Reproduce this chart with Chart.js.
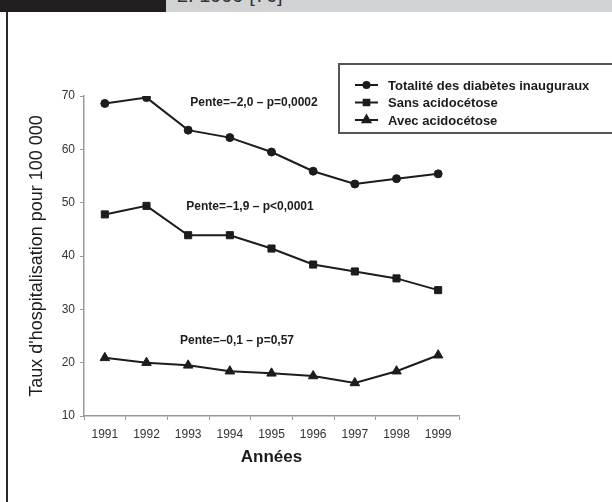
<!DOCTYPE html>
<html>
<head>
<meta charset="utf-8">
<script src="https://cdn.jsdelivr.net/npm/chart.js@4/dist/chart.umd.min.js"></script>
<style>
  body { margin: 0; background: #fff; }
  .page { position: relative; width: 612px; height: 502px; overflow: hidden; background: #fff; }
  .bar-black { position: absolute; left: 0; top: 0; width: 166px; height: 12px; background: #231f20; }
  .bar-grey { position: absolute; left: 166px; top: 0; width: 446px; height: 12px; background: #d1d2d4; overflow: hidden; }
  .bar-grey span { position: absolute; left: 11px; top: -16px; font: 20px "Liberation Sans", Arial, sans-serif; color: #333; white-space: nowrap; }
  .frame-left { position: absolute; left: 6px; top: 12px; width: 2px; height: 490px; background: #2a2a2a; }
  canvas { position: absolute; left: 0; top: 0; }
</style>
</head>
<body>
<div class="page">
  <canvas id="myChart" width="612" height="502"></canvas>
  <div class="bar-black"></div>
  <div class="bar-grey"><span>2. 1999 [76]</span></div>
  <div class="frame-left"></div>
</div>
<script>
const years = ['1991', '1992', '1993', '1994', '1995', '1996', '1997', '1998', '1999'];
const totalite = [68.6, 69.7, 63.6, 62.2, 59.5, 55.9, 53.5, 54.5, 55.4];
const sansAcido = [47.8, 49.4, 43.9, 43.9, 41.4, 38.4, 37.1, 35.8, 33.6];
const avecAcido = [20.9, 20.0, 19.5, 18.4, 18.0, 17.5, 16.2, 18.4, 21.4];
const seriesNames = ['Totalité des diabètes inauguraux', 'Sans acidocétose', 'Avec acidocétose'];
const pentes = ['Pente=–2,0 – p=0,0002', 'Pente=–1,9 – p<0,0001', 'Pente=–0,1 – p=0,57'];
const yMin = 10, yMax = 70, yStep = 10;

const ink = '#1c1c1c';
const styles = ['circle', 'rect', 'triangle'];
const radii = [4, 5, 5.5];
const fam = '"Liberation Sans", Arial, sans-serif';

// legend box + slope texts
const extras = {
  id: 'extras',
  afterDraw(chart) {
    const ctx = chart.ctx;
    ctx.save();
    ctx.strokeStyle = '#555';
    ctx.lineWidth = 2;
    ctx.strokeRect(339, 64, 280, 69);

    ctx.font = 'bold 13px ' + fam;
    ctx.fillStyle = ink;
    ctx.textBaseline = 'middle';
    const rows = [85, 102.5, 120];
    seriesNames.forEach((name, i) => {
      ctx.strokeStyle = ink;
      ctx.lineWidth = 2;
      ctx.beginPath();
      ctx.moveTo(355, rows[i]);
      ctx.lineTo(378, rows[i]);
      ctx.stroke();
      ctx.fillStyle = ink;
      Chart.helpers.drawPoint(ctx, {pointStyle: styles[i], radius: radii[i] - 1, rotation: 0, borderWidth: 1}, 366.5, rows[i]);
      ctx.fillStyle = ink;
      ctx.textAlign = 'left';
      ctx.fillText(name, 388, rows[i] + 1);
    });

    ctx.font = 'bold 12px ' + fam;
    const spots = [[254, 103], [250, 207], [237, 341]];
    ctx.textAlign = 'center';
    pentes.forEach((t, i) => {
      ctx.fillText(t, spots[i][0], spots[i][1]);
    });
    ctx.restore();
  }
};

const ctx = document.getElementById('myChart');
new Chart(ctx, {
  type: 'line',
  data: {
    labels: years,
    datasets: [totalite, sansAcido, avecAcido].map((d, i) => ({
      label: seriesNames[i],
      data: d,
      borderColor: ink,
      backgroundColor: ink,
      borderWidth: 2,
      pointStyle: styles[i],
      pointRadius: radii[i],
      pointBorderWidth: 1,
      tension: 0,
    })),
  },
  options: {
    responsive: false,
    animation: false,
    events: [],
    layout: { padding: { left: 26, right: 153, top: 96, bottom: 34 } },
    plugins: { legend: { display: false }, tooltip: { enabled: false } },
    scales: {
      x: {
        offset: true,
        grid: { offset: true, drawOnChartArea: false, tickLength: 4, color: '#999' },
        border: { color: '#999', width: 1.5 },
        ticks: { color: '#333', padding: 7, font: { size: 12, family: fam } },
        title: { display: true, text: 'Années', color: ink, padding: 0,
          font: { size: 17, weight: 'bold', family: fam } },
        afterFit: (s) => { s.height = 52; },
      },
      y: {
        min: yMin,
        max: yMax,
        grid: { drawOnChartArea: false, tickLength: 4, color: '#999' },
        border: { color: '#999', width: 1.5 },
        ticks: { stepSize: yStep, color: '#333', padding: 5, font: { size: 12, family: fam } },
        title: { display: true, text: "Taux d'hospitalisation pour 100 000", color: ink, padding: 0,
          font: { size: 18, family: fam } },
        afterFit: (s) => { s.width = 58; },
      },
    },
  },
  plugins: [extras],
});
</script>
</body>
</html>
